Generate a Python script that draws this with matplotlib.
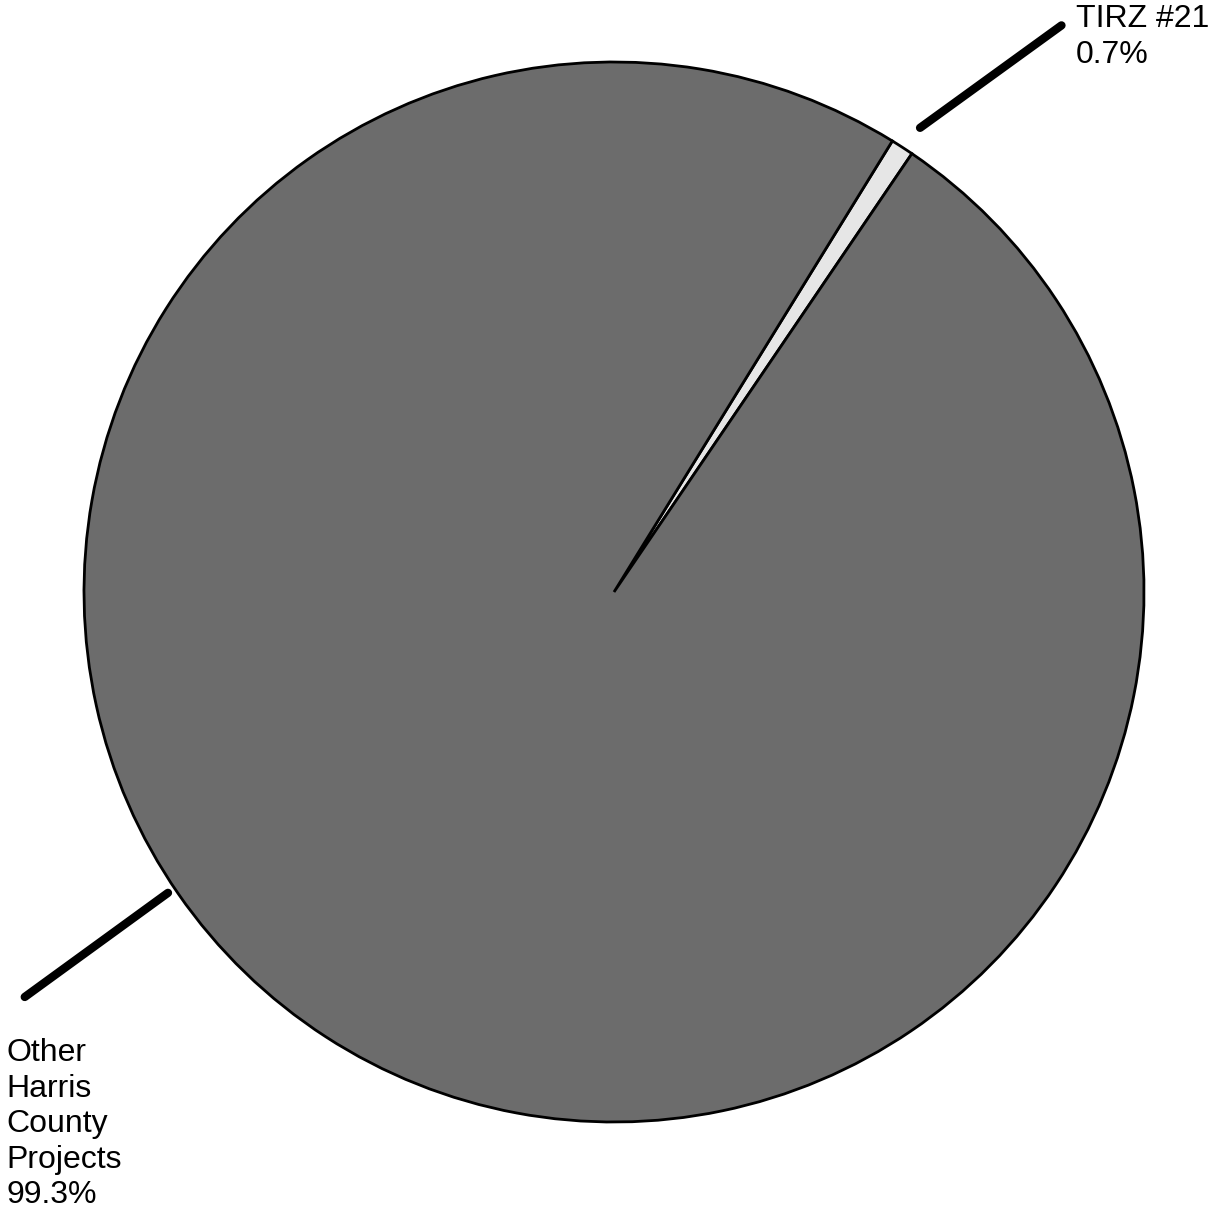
import matplotlib.pyplot as plt
import numpy as np

# Data
labels = ['TIRZ #21', 'Other\nHarris\nCounty\nProjects']
shares = [0.7, 99.3]
pct_text = ['0.7%', '99.3%']
colors = ['#e6e6e6', '#6c6c6c']

W, H = 1209, 1212
fig = plt.figure(figsize=(W / 100, H / 100), dpi=100)
ax = fig.add_axes([0, 0, 1, 1])

cx, cy, R = 614, H - 592, 530
start = 55.8

ax.pie(shares, colors=colors, startangle=start, counterclock=True,
       center=(cx, cy), radius=R, frame=True,
       wedgeprops=dict(edgecolor='black', linewidth=2))
ax.set_xlim(0, W)
ax.set_ylim(0, H)
ax.axis('off')

# leader lines (angle in degrees, inner radius, outer radius)
leaders = [((56.6, 556), (51.7, 722)), ((214.0, 538), (214.5, 715))]
for (a1, r1), (a2, r2) in leaders:
    x1 = cx + r1 * np.cos(np.radians(a1))
    y1 = cy + r1 * np.sin(np.radians(a1))
    x2 = cx + r2 * np.cos(np.radians(a2))
    y2 = cy + r2 * np.sin(np.radians(a2))
    ax.plot([x1, x2], [y1, y2], color='black', lw=6, solid_capstyle='round')

font = dict(family=['Liberation Sans', 'DejaVu Sans'], fontsize=23, color='black')
ax.text(1076, H - 4, labels[0] + '\n' + pct_text[0], ha='left', va='top',
        linespacing=1.26, **font)
ax.text(6, H - 1038, labels[1] + '\n' + pct_text[1], ha='left', va='top',
        linespacing=1.24, **font)

fig.savefig('out.png', dpi=100, facecolor='white')
